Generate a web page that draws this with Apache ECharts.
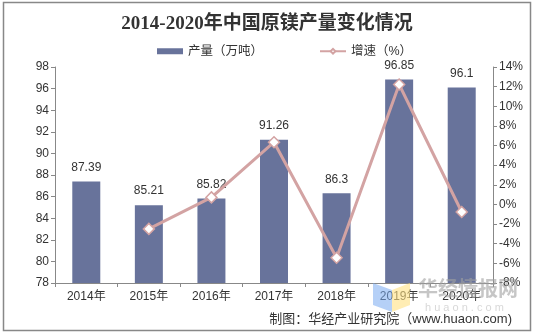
<!DOCTYPE html>
<html>
<head>
<meta charset="utf-8">
<script src="https://cdn.jsdelivr.net/npm/echarts@6/dist/echarts.min.js"></script>
<style>
  html, body { margin: 0; padding: 0; background: #fff; }
  #chart { width: 534px; height: 336px; }
</style>
</head>
<body>
<div id="chart"></div>
<script>
// 2014-2020 primary magnesium output (10k tonnes) and year-on-year growth (%)
const years = ['2014年', '2015年', '2016年', '2017年', '2018年', '2019年', '2020年'];
const output = [87.39, 85.21, 85.82, 91.26, 86.3, 96.85, 96.1];
const growth = [null, -2.49, 0.72, 6.34, -5.43, 12.22, -0.77];

const barColor = '#68739B';
const lineColor = '#D3A3A3';
const cjk = "'Liberation Sans', 'Noto Sans CJK SC', sans-serif";

const chart = echarts.init(document.getElementById('chart'), null, { renderer: 'canvas' });

chart.setOption({
  animation: false,
  backgroundColor: '#fff',
  title: {
    text: '2014-2020年中国原镁产量变化情况',
    left: 'center',
    top: 10,
    textStyle: {
      fontFamily: "'Liberation Serif', 'Noto Sans CJK SC', serif",
      fontSize: 19,
      fontWeight: 'bold',
      color: '#333'
    }
  },
  legend: {
    top: 40,
    left: 152,
    itemGap: 56,
    itemWidth: 26,
    itemHeight: 6,
    textStyle: { fontFamily: cjk, fontSize: 12.5, color: '#333' },
    data: [
      { name: '产量（万吨）', icon: 'rect' },
      { name: '增速（%）' }
    ]
  },
  grid: { left: 55, right: 41, top: 67, bottom: 53 },
  xAxis: {
    type: 'category',
    data: years,
    axisLine: { onZero: false, lineStyle: { color: '#888' } },
    axisTick: { show: true, length: 4, lineStyle: { color: '#888' } },
    axisLabel: { fontFamily: cjk, fontSize: 12, color: '#333', margin: 8 }
  },
  yAxis: [
    {
      type: 'value',
      min: 78, max: 98, interval: 2,
      splitLine: { show: false },
      axisLine: { show: true, lineStyle: { color: '#888' } },
      axisTick: { show: true, length: 4, lineStyle: { color: '#888' } },
      axisLabel: { fontFamily: cjk, fontSize: 12, color: '#333', margin: 6 }
    },
    {
      type: 'value',
      min: -8, max: 14, interval: 2,
      splitLine: { show: false },
      axisLine: { show: true, lineStyle: { color: '#888' } },
      axisTick: { show: true, length: 4, lineStyle: { color: '#888' } },
      axisLabel: { fontFamily: cjk, fontSize: 12, color: '#333', margin: 6, formatter: '{value}%' }
    }
  ],
  series: [
    {
      name: '产量（万吨）',
      type: 'bar',
      data: output,
      barWidth: 28,
      itemStyle: { color: barColor },
      label: {
        show: true,
        position: 'top',
        distance: 8,
        fontFamily: cjk,
        fontSize: 12,
        color: '#333'
      }
    },
    {
      name: '增速（%）',
      type: 'line',
      yAxisIndex: 1,
      data: growth,
      symbol: 'diamond',
      symbolSize: 11,
      lineStyle: { color: lineColor, width: 3 },
      itemStyle: { color: '#fff', borderColor: lineColor, borderWidth: 1.5 },
      z: 5
    }
  ],
  graphic: [
    {
      type: 'rect',
      shape: { x: 3.5, y: 2.5, width: 527, height: 328 },
      style: { fill: 'none', stroke: '#888', lineWidth: 1.5 },
      silent: true
    },
    // watermark logo
    {
      type: 'polygon',
      shape: { points: [[373, 283], [392, 290], [392, 312], [373, 305]] },
      style: { fill: 'rgba(120,170,240,0.55)' },
      silent: true, z: 10
    },
    {
      type: 'polygon',
      shape: { points: [[392, 290], [410, 283], [410, 305], [392, 312]] },
      style: { fill: 'rgba(255,225,130,0.6)' },
      silent: true, z: 10
    },
    {
      type: 'text',
      left: 418, top: 278,
      style: {
        text: '华经情报网',
        fontFamily: "'Noto Sans CJK SC', sans-serif",
        fontSize: 20, fontWeight: 'bold',
        fill: 'rgba(160,160,160,0.6)'
      },
      silent: true, z: 10
    },
    {
      type: 'text',
      left: 425, top: 302,
      style: {
        text: 'h u a o n . c o m',
        fontFamily: "'Liberation Sans', sans-serif",
        fontSize: 11,
        fill: 'rgba(190,190,190,0.6)'
      },
      silent: true, z: 10
    },
    {
      type: 'text',
      right: 22, top: 313,
      style: {
        text: '制图：华经产业研究院（www.huaon.com)',
        fontFamily: cjk,
        fontSize: 13,
        fill: '#333'
      },
      silent: true, z: 11
    }
  ]
});
</script>
</body>
</html>
